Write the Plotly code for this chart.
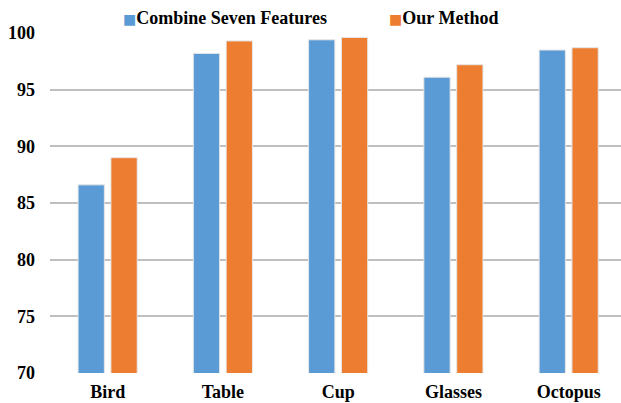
import plotly.graph_objects as go

categories = ["Bird", "Table", "Cup", "Glasses", "Octopus"]
combine_seven = [86.6, 98.2, 99.4, 96.1, 98.5]
our_method = [89.0, 99.3, 99.6, 97.2, 98.7]
y_ticks = [70, 75, 80, 85, 90, 95, 100]
series_names = ["Combine Seven Features", "Our Method"]

FONT = "Liberation Serif"
BLUE = "#5B9BD5"
ORANGE = "#ED7D31"
GRID = "#BFBFBF"
W, H = 621, 403

fig = go.Figure()
for name, vals, col in zip(series_names, [combine_seven, our_method], [BLUE, ORANGE]):
    fig.add_trace(go.Bar(
        name=name, x=categories, y=vals,
        marker=dict(color=col, line=dict(color="#E6E6E6", width=1)),
        showlegend=False,
    ))

# legend drawn as text entries with coloured square markers
legend_left = [121, 387]
for name, col, left in zip(series_names, [BLUE, ORANGE], legend_left):
    fig.add_annotation(
        xref="paper", yref="paper", xanchor="left", yanchor="middle",
        x=(left - 50) / (W - 50), y=1 + (33 - 18) / (H - 63),
        text=f"<span style='color:{col}; font-family:DejaVu Sans; font-size:14px'>■</span>{name}",
        showarrow=False,
        font=dict(family=FONT, size=18, color="black", weight="bold"),
    )

fig.update_layout(
    width=W, height=H,
    margin=dict(l=50, r=0, t=33, b=30, autoexpand=False),
    paper_bgcolor="white", plot_bgcolor="white",
    barmode="group", bargap=0.43, bargroupgap=0.2,
    font=dict(family=FONT, size=18, color="black", weight="bold"),
    showlegend=False,
)
fig.update_xaxes(
    range=[-0.5, 4.454],
    showgrid=False, showline=False, ticks="", ticklabelstandoff=6,
    tickfont=dict(family=FONT, size=18, color="black", weight="bold"),
)
fig.update_yaxes(
    range=[70, 100], tickvals=y_ticks, showgrid=True, gridcolor=GRID, gridwidth=1.5,
    zeroline=False, showline=False, ticks="", ticklabelstandoff=14,
    tickfont=dict(family=FONT, size=18, color="black", weight="bold"),
)

fig.write_html("out.html")
